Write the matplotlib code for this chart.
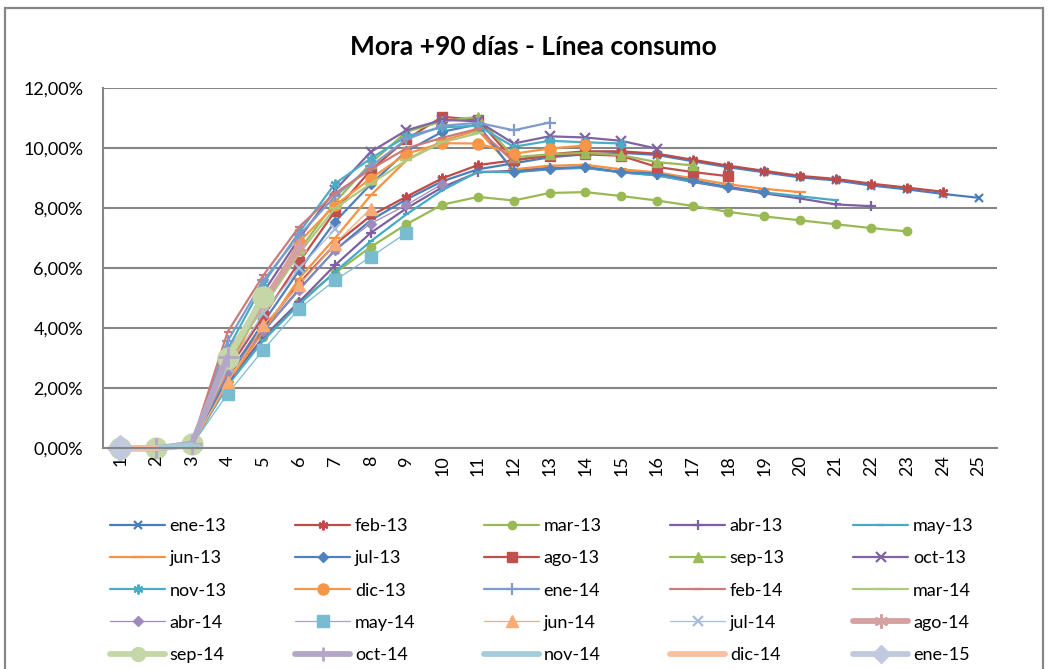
import matplotlib
matplotlib.use("Agg")
import matplotlib.pyplot as plt
from matplotlib.patches import Rectangle
from matplotlib.ticker import FuncFormatter, FixedLocator

plt.rcParams['font.family'] = ['Lato', 'DejaVu Sans']

title = "Mora +90 días - Línea consumo"
x_labels = [str(i) for i in range(1, 26)]

series_names = ["ene-13", "feb-13", "mar-13", "abr-13", "may-13", "jun-13", "jul-13",
                "ago-13", "sep-13", "oct-13", "nov-13", "dic-13", "ene-14", "feb-14",
                "mar-14", "abr-14", "may-14", "jun-14", "jul-14", "ago-14", "sep-14",
                "oct-14", "nov-14", "dic-14", "ene-15"]

# values in percent
ene_13 = [0, 0, 0.12, 2.4, 3.9, 5.3, 6.6, 7.6, 8.3, 8.9, 9.3, 9.5, 9.7, 9.8, 9.85, 9.78,
          9.57, 9.37, 9.2, 9.03, 8.93, 8.76, 8.63, 8.48, 8.35]
feb_13 = [0, 0, 0.13, 2.5, 4.0, 5.5, 6.8, 7.75, 8.39, 9.0, 9.44, 9.6, 9.8, 9.9, 9.9, 9.82,
          9.62, 9.42, 9.25, 9.08, 8.98, 8.82, 8.69, 8.55]
mar_13 = [0, 0, 0.1, 2.2, 3.7, 4.88, 5.84, 6.71, 7.47, 8.12, 8.38, 8.26, 8.51, 8.54, 8.41,
          8.26, 8.08, 7.88, 7.73, 7.6, 7.47, 7.34, 7.23]
abr_13 = [0, 0, 0.12, 2.2, 3.7, 4.88, 6.1, 7.18, 8.0, 8.7, 9.2, 9.25, 9.35, 9.35, 9.2,
          9.1, 8.88, 8.68, 8.5, 8.33, 8.13, 8.07]
may_13 = [0, 0, 0.11, 2.1, 3.6, 4.8, 5.88, 6.9, 7.8, 8.6, 9.22, 9.2, 9.3, 9.35, 9.2, 9.1,
          8.9, 8.7, 8.53, 8.4, 8.27]
jun_13 = [0, 0, 0.12, 2.2, 3.9, 5.66, 7.0, 8.43, 9.6, 10.25, 10.6, 9.3, 9.42, 9.45, 9.3,
          9.2, 9.0, 8.8, 8.65, 8.54]
jul_13 = [0, 0, 0.13, 2.4, 4.2, 5.93, 7.55, 8.8, 9.9, 10.55, 10.8, 9.21, 9.32, 9.38, 9.21,
          9.16, 8.93, 8.71, 8.54]
ago_13 = [0, 0, 0.14, 2.6, 4.4, 6.21, 7.9, 9.27, 10.3, 11.05, 10.95, 9.6, 9.75, 9.8, 9.75,
          9.38, 9.21, 9.07]
sep_13 = [0, 0, 0.14, 2.8, 4.8, 6.6, 8.2, 9.5, 10.55, 10.9, 11.05, 9.7, 9.8, 9.85, 9.77,
          9.54, 9.43]
oct_13 = [0, 0, 0.15, 3.0, 5.2, 7.0, 8.6, 9.88, 10.6, 10.95, 10.9, 10.16, 10.4, 10.36,
          10.25, 9.99]
nov_13 = [0, 0, 0.15, 3.3, 5.5, 7.2, 8.82, 9.66, 10.4, 10.7, 10.75, 10.05, 10.25, 10.2,
          10.16]
dic_13 = [0, 0, 0.13, 2.6, 4.9, 6.88, 8.1, 8.99, 9.82, 10.17, 10.16, 9.82, 9.99, 10.1]
ene_14 = [0, 0, 0.16, 3.58, 5.6, 7.1, 8.4, 9.4, 10.3, 10.75, 10.85, 10.6, 10.86]
feb_14 = [0, 0, 0.17, 3.88, 5.77, 7.38, 8.5, 9.3, 10.0, 10.35, 10.65, 9.55]
mar_14 = [0, 0, 0.14, 2.9, 4.7, 6.5, 8.0, 8.82, 9.6, 10.2, 10.5]
abr_14 = [0, 0, 0.12, 2.5, 3.9, 5.27, 6.6, 7.49, 8.11, 8.81]
may_14 = [0, 0, 0.1, 1.82, 3.29, 4.66, 5.6, 6.38, 7.18]
jun_14 = [0, 0, 0.11, 2.2, 4.1, 5.43, 6.82, 7.99]
jul_14 = [0, 0, 0.13, 2.7, 4.5, 6.0, 7.3]
ago_14 = [0, 0, 0.12, 3.1, 4.9, 6.7]
sep_14 = [0, 0, 0.15, 3.0, 5.05]
oct_14 = [0, 0, 0.15, 3.05]
nov_14 = [0, 0, 0.1]
dic_14 = [0, 0]
ene_15 = [0]

all_values = [ene_13, feb_13, mar_13, abr_13, may_13, jun_13, jul_13, ago_13, sep_13,
              oct_13, nov_13, dic_13, ene_14, feb_14, mar_14, abr_14, may_14, jun_14,
              jul_14, ago_14, sep_14, oct_14, nov_14, dic_14, ene_15]

colors = ["#4A7EBB", "#BE4B48", "#98B954", "#7D60A0", "#46AAC5", "#F69240",
          "#4F81BD", "#C0504D", "#9BBB59", "#8064A2", "#4BACC6", "#F79646",
          "#7E9BCB", "#CB7B79", "#AFC97F", "#9E8BBB", "#79BBD0", "#F9AB76",
          "#A9BCDB", "#D5A0A0", "#C6D7A7", "#B3A6C8", "#A5CCDB", "#F8BFA1", "#C0C9DE"]
star = (6, 2, 0)
markers = ['x', star, 'o', '+', '_', '_', 'D', 's', '^', 'x', star, 'o', '+', '_', '_',
           'D', 's', '^', 'x', star, 'o', '+', '_', '_', 'D']
msizes = [6, 7, 6, 7, 5, 8, 5, 7, 7, 7, 7, 8, 8, 6, 8, 5, 8, 8, 7, 12, 15, 14, 12, 12, 13]
lwidths = [1.6] * 15 + [0.9] * 4 + [4.2] * 6
legend_ms = [6, 7, 6, 7, 5, 8, 5, 7, 7, 7, 7, 8, 8, 6, 8, 5, 8, 8, 7, 10, 10, 10, 8, 8, 9]

fig = plt.figure(figsize=(10.48, 6.69), dpi=100)
W, H = 1048, 669
ax = fig.add_axes([102.5 / W, 1 - 448.3 / H, (996.5 - 102.5) / W, 360 / H])

handles = []
for name, vals, c, m, ms, lw in zip(series_names, all_values, colors, markers, msizes, lwidths):
    xs = list(range(1, len(vals) + 1))
    line_marker = m in ('x', '+', '_') or m == star
    mew = (2.0 if lw > 3 else 1.6) if line_marker else 1.0
    h, = ax.plot(xs, vals, color=c, lw=lw, marker=m, markersize=ms,
                 markerfacecolor=c, markeredgecolor=c, markeredgewidth=mew,
                 label=name, solid_capstyle='round', clip_on=False)
    handles.append(h)

ax.set_xlim(0.5, 25.5)
ax.set_ylim(0, 12)
ax.yaxis.set_major_locator(FixedLocator([0, 2, 4, 6, 8, 10, 12]))
ax.yaxis.set_major_formatter(FuncFormatter(lambda v, p: f"{v:.2f}%".replace('.', ',')))
ax.set_xticks(range(1, 26))
ax.set_xticklabels(x_labels, rotation=90)
ax.grid(axis='y', color='#868686', lw=1.5)
ax.set_axisbelow(True)
ax.xaxis.set_zorder(3)
for s in ['top', 'right']:
    ax.spines[s].set_visible(False)
for s in ['left', 'bottom']:
    ax.spines[s].set_color('#868686')
    ax.spines[s].set_linewidth(1.5)
ax.tick_params(axis='both', length=0, labelsize=13, colors='#000000')
ax.tick_params(axis='y', pad=14)
ax.tick_params(axis='x', pad=5)

fig.text(533 / W, 1 - 47 / H, title, ha='center', va='center', fontsize=19, fontweight='bold')

# outer chart border
fig.patches.append(Rectangle((5 / W, -0.05), (1043 - 5) / W, 1.05 - 8 / H,
                             transform=fig.transFigure, fill=False, edgecolor='#868686',
                             lw=1.6))

order = [r * 5 + c for c in range(5) for r in range(5)]
leg = fig.legend([handles[i] for i in order], [series_names[i] for i in order],
                 ncol=5, loc='upper left', bbox_to_anchor=(110 / W, 1 - 518 / H),
                 frameon=False, fontsize=13, handlelength=3.05, handletextpad=0.25,
                 columnspacing=3.8, labelspacing=0.9, borderpad=0, borderaxespad=0)
for lh, i in zip(leg.legend_handles, order):
    lh.set_markersize(legend_ms[i])

fig.savefig("out.png", dpi=100)
